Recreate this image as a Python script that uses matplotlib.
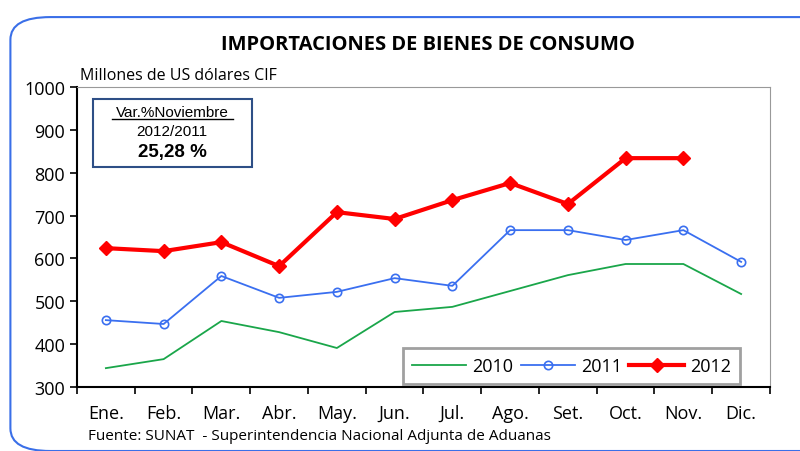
import matplotlib.pyplot as plt
from matplotlib.patches import FancyBboxPatch
from matplotlib.lines import Line2D

meses = ['Ene.', 'Feb.', 'Mar.', 'Abr.', 'May.', 'Jun.', 'Jul.', 'Ago.', 'Set.', 'Oct.', 'Nov.', 'Dic.']
v2010 = [344, 365, 454, 428, 391, 475, 487, 524, 561, 587, 587, 517]
v2011 = [456, 447, 559, 508, 522, 554, 536, 666, 666, 643, 666, 592]
v2012 = [624, 617, 638, 582, 708, 692, 736, 776, 727, 834, 834]

fnt = ['Open Sans', 'DejaVu Sans']
fig = plt.figure(figsize=(8, 4.52), dpi=100)

# rounded blue frame
frame = FancyBboxPatch((0.013, 0.0), 1.1, 0.96, boxstyle='round,pad=0,rounding_size=0.05',
                       transform=fig.transFigure, fill=False, edgecolor='#3a6fe8', lw=1.5, clip_on=False)
fig.patches.append(frame)

ax = fig.add_axes([0.09625, 0.1416, 0.86625, 0.6637])
x = list(range(len(meses)))
ax.plot(x, v2010, color='#1aa64a', lw=1.3, label='2010')
ax.plot(x, v2011, color='#3a6ff0', lw=1.3, marker='o', ms=6, mfc='none', mew=1.2, label='2011')
ax.plot(x[:len(v2012)], v2012, color='#ff0000', lw=3, marker='D', ms=7, label='2012')

ax.set_xlim(-0.5, 11.5)
ax.set_ylim(300, 1000)
ax.set_yticks(range(300, 1001, 100))
ax.set_xticks([i + 0.5 for i in range(-1, 12)], minor=False)
ax.set_xticklabels([])
ax.set_xticks(x, minor=True)
ax.set_xticklabels(meses, minor=True, fontsize=13, family=fnt)
ax.tick_params(axis='x', which='minor', length=0, pad=12)
ax.tick_params(axis='x', which='major', direction='out', length=5, width=1.2)
ax.tick_params(axis='y', direction='out', length=5, width=1.2, labelsize=13)
for t in ax.get_yticklabels():
    t.set_family(fnt)
ax.spines['left'].set_linewidth(1.5)
ax.spines['bottom'].set_linewidth(1.5)
ax.spines['top'].set_color('#999999')
ax.spines['right'].set_color('#999999')

leg = ax.legend(loc='lower right', bbox_to_anchor=(740 / 800, 1 - 385 / 452), bbox_transform=fig.transFigure,
                ncol=3, prop={'family': fnt, 'size': 13}, frameon=True, fancybox=False, borderaxespad=0,
                handlelength=3.0, columnspacing=0.4, handletextpad=0.35, borderpad=0.5)
leg.get_frame().set_edgecolor('#888888')
leg.get_frame().set_linewidth(2)

fig.text(428 / 800, 1 - 45 / 452, 'IMPORTACIONES DE BIENES DE CONSUMO', ha='center', va='center',
         fontsize=14.5, fontweight='bold', family=fnt)
fig.text(80 / 800, 1 - 76 / 452, 'Millones de US dólares CIF', ha='left', va='center', fontsize=11.5, family=fnt)
fig.text(88 / 800, 1 - 437 / 452, 'Fuente: SUNAT  - Superintendencia Nacional Adjunta de Aduanas',
         ha='left', va='center', fontsize=11, family=fnt)

# variation box
box = FancyBboxPatch((93 / 800, 1 - 168 / 452), 159 / 800, 68 / 452, boxstyle='square,pad=0',
                     transform=fig.transFigure, facecolor='white', edgecolor='#2e4f86', lw=1.5)
fig.patches.append(box)
cx = 172 / 800
fig.text(cx, 1 - 113 / 452, 'Var.%Noviembre', ha='center', va='center', fontsize=11, family='Liberation Sans')
fig.lines.append(Line2D([112 / 800, 233 / 800], [1 - 120 / 452, 1 - 120 / 452],
                        transform=fig.transFigure, color='black', lw=1))
fig.text(cx, 1 - 132 / 452, '2012/2011', ha='center', va='center', fontsize=11, family='Liberation Sans')
fig.text(cx, 1 - 152 / 452, '25,28 %', ha='center', va='center', fontsize=13.5, fontweight='bold',
         family='Liberation Sans')

fig.savefig('out.png', dpi=100)
